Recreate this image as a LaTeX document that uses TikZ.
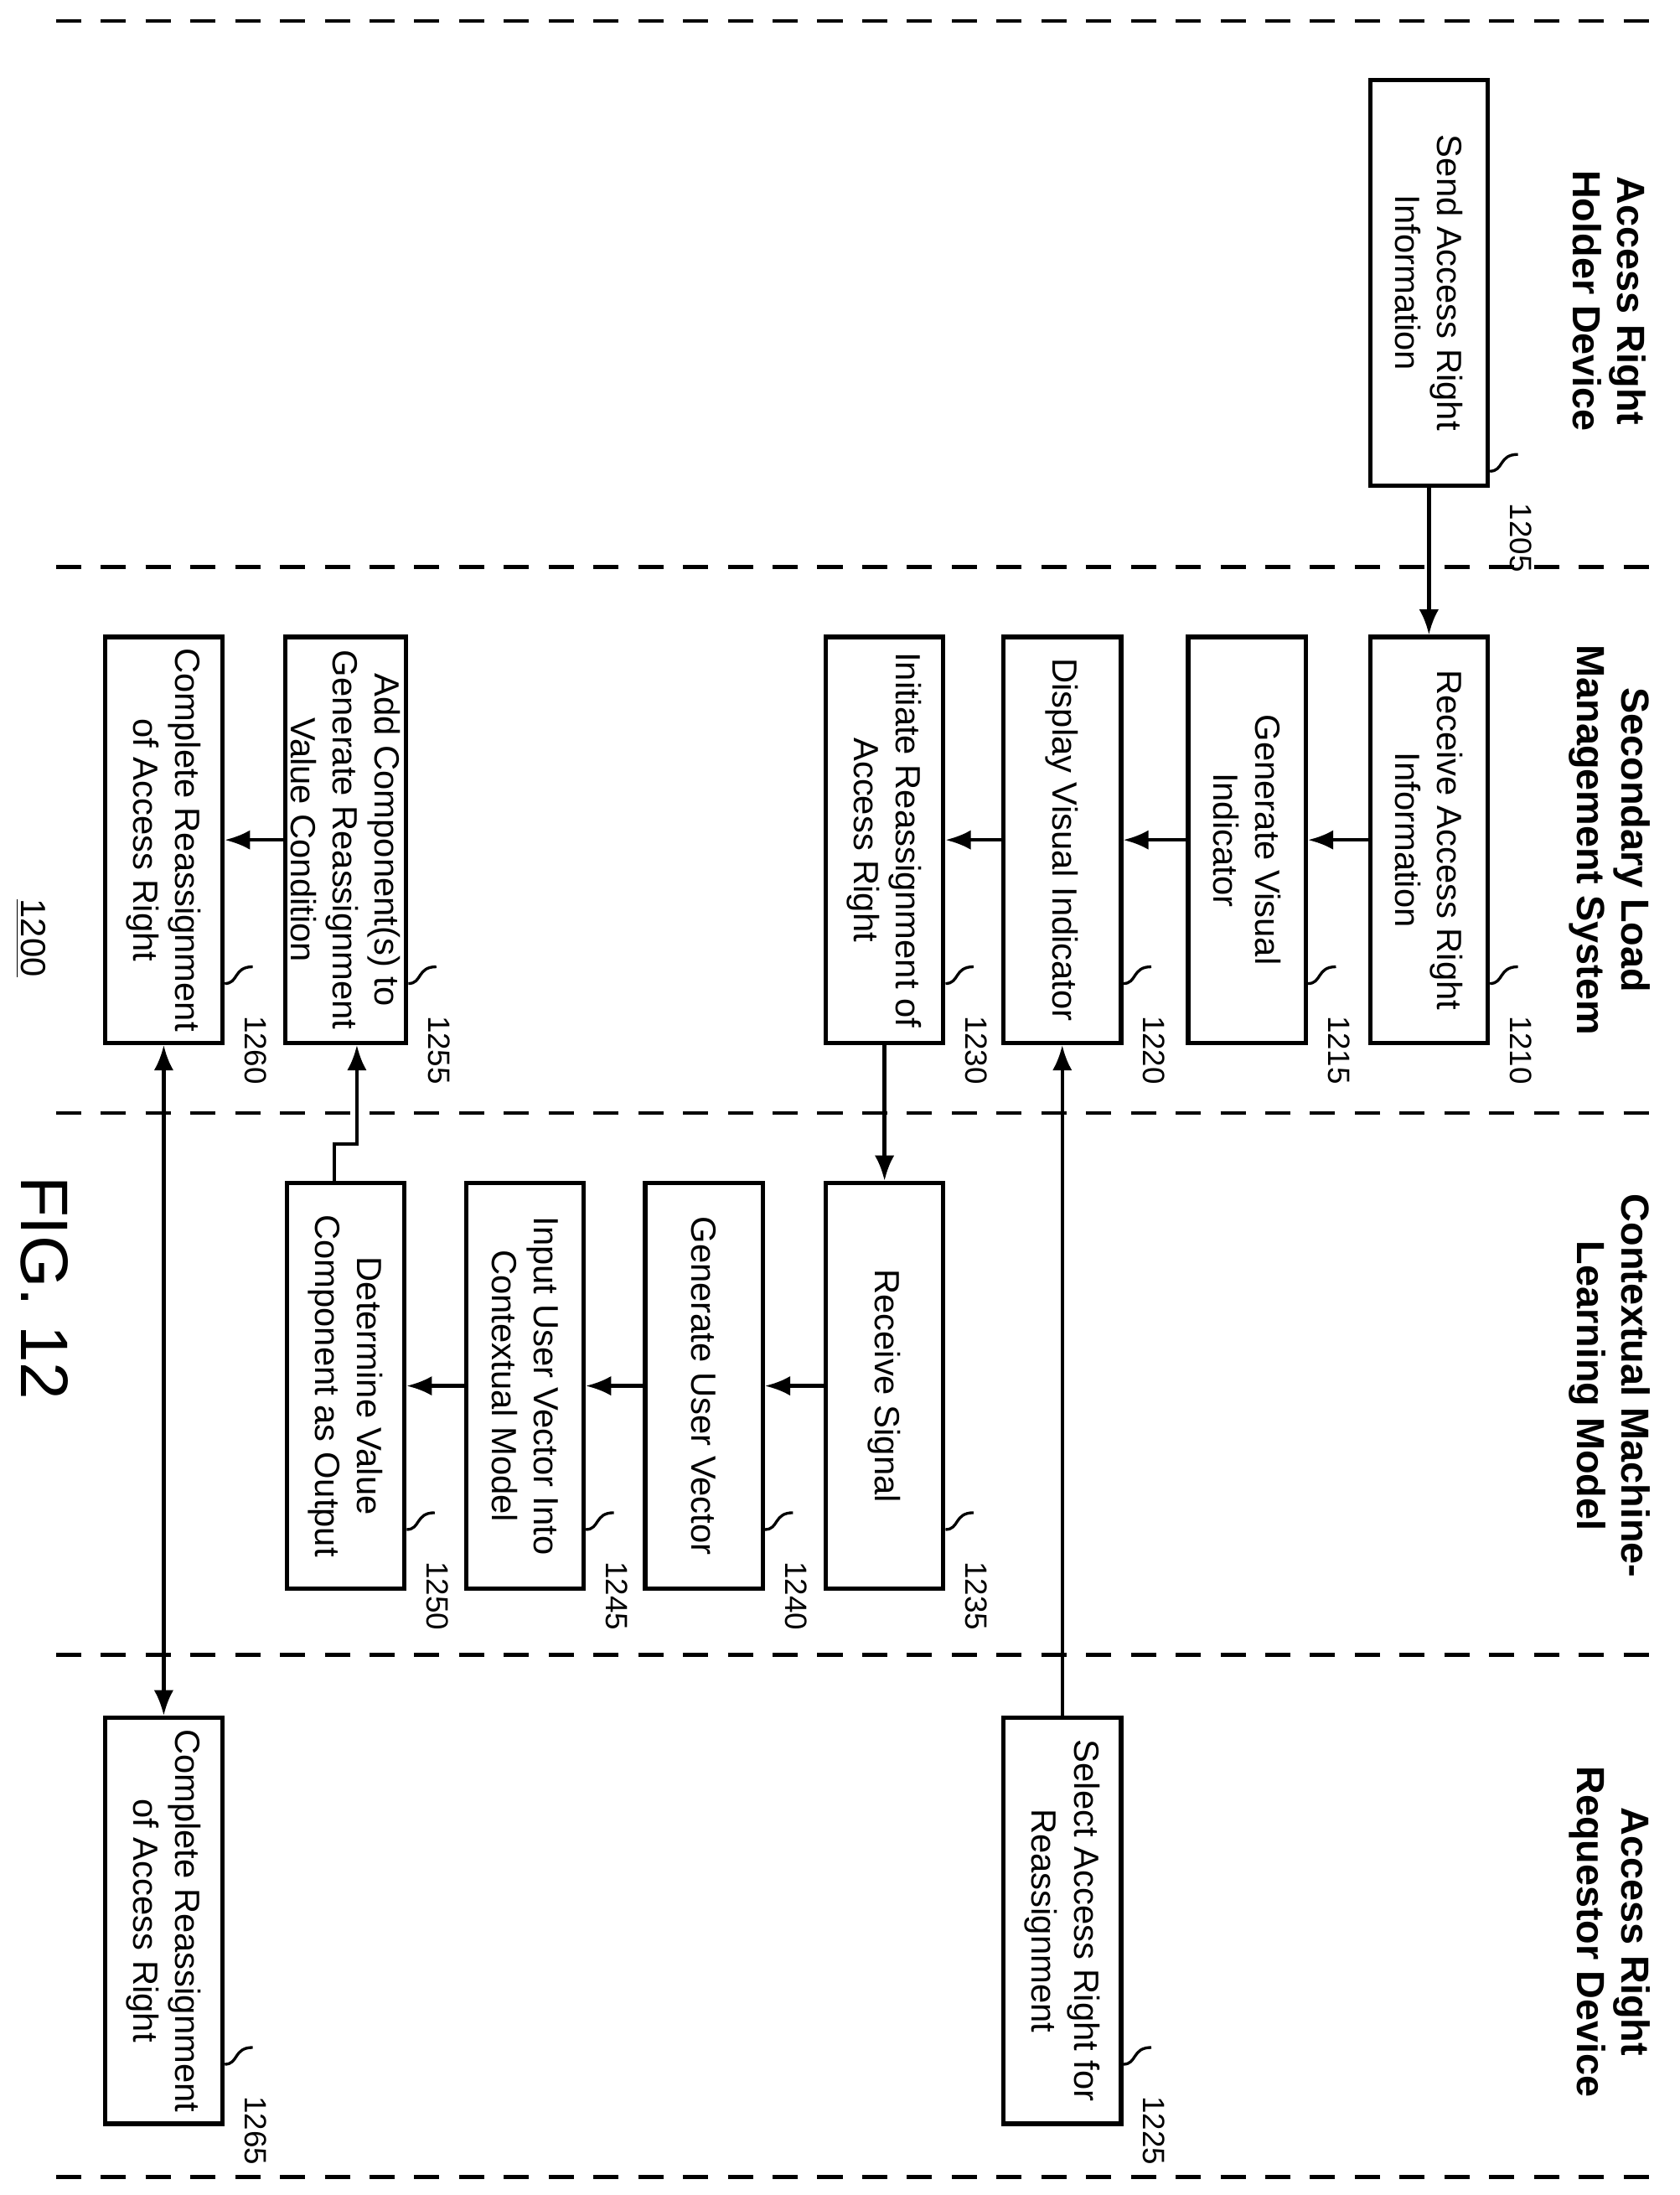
\documentclass[tikz,border=0pt]{standalone}
\usepackage{fontspec}
\setmainfont{Liberation Sans}
\usetikzlibrary{calc,arrows.meta}
\begin{document}
\begin{tikzpicture}[x=0.5pt,y=0.5pt,
 box/.style={draw,line width=1.6pt,rotate=-90,align=center,minimum width=145pt,minimum height=42pt,inner sep=2pt,font=\fontsize{12.5}{15}\selectfont},
 hdr/.style={rotate=-90,align=center,font=\fontsize{14}{16}\selectfont\bfseries},
 lanedash/.style={line width=1.4pt,dash pattern=on 9pt off 7pt},
 arr/.style={line width=1.3pt,-{Latex[length=9pt,width=7pt]}},
 num/.style={rotate=-90,anchor=west,font=\fontsize{11}{13}\selectfont}]
\useasboundingbox (0,0) rectangle (1200,-1568);
\fill[white] (0,0) rectangle (1200,-1568);
\foreach \y in {15,405,795,1182,1555} \draw[lanedash] (40,-\y) -- (1190,-\y);
\node[hdr] (h1) at (1150,-215) {Access Right\\Holder Device};
\node[hdr] (h2) at (1150,-600) {Secondary Load\\Management System};
\node[hdr] (h3) at (1150,-990) {Contextual Machine-\\Learning Model};
\node[hdr] (h4) at (1150,-1380) {Access Right\\Requestor Device};
\node[box] (n1205) at (1021,-202) {Send Access Right\\Information};
\node[box] (n1210) at (1021,-600) {Receive Access Right\\Information};
\node[box] (n1215) at (891,-600) {Generate Visual\\Indicator};
\node[box] (n1220) at (759,-600) {Display Visual Indicator};
\node[box] (n1230) at (632,-600) {Initiate Reassignment of\\Access Right};
\node[box] (n1255) at (247,-600) {Add Component(s) to\\Generate Reassignment\\Value Condition};
\node[box] (n1260) at (117,-600) {Complete Reassignment\\of Access Right};
\node[box] (n1235) at (632,-990) {Receive Signal};
\node[box] (n1240) at (503,-990) {Generate User Vector};
\node[box] (n1245) at (375,-990) {Input User Vector Into\\Contextual Model};
\node[box] (n1250) at (247,-990) {Determine Value\\Component as Output};
\node[box] (n1225) at (759,-1372) {Select Access Right for\\Reassignment};
\node[box] (n1265) at (117,-1372) {Complete Reassignment\\of Access Right};
\foreach \n/\o in {1205/-2,1210/14,1215/14,1220/14,1230/14,1255/14,1260/14,1235/14,1240/14,1245/14,1250/14,1225/14,1265/14}{
  \coordinate (c) at (n\n.north east);
  \draw[line width=1pt] ($(c)+(0,\o pt+8pt)$) .. controls ($(c)+(5pt,\o pt+8pt)$) and ($(c)+(3pt,\o pt+14pt)$) .. ($(c)+(10pt,\o pt+14pt)$);
  \node[num] (l\n) at ($(c)+(11pt,\o pt)$) {\n};
}
\draw[arr] (n1205.east) -- (n1210.west);
\draw[arr] (n1210.south) -- (n1215.north);
\draw[arr] (n1215.south) -- (n1220.north);
\draw[arr] (n1220.south) -- (n1230.north);
\draw[arr] (n1230.east) -- (n1235.west);
\draw[arr] (n1235.south) -- (n1240.north);
\draw[arr] (n1240.south) -- (n1245.north);
\draw[arr] (n1245.south) -- (n1250.north);
\draw[arr] ([xshift=-4pt]n1250.west) -- ++(0,26) -| ([xshift=4pt]n1255.east);
\draw[arr] (n1255.south) -- (n1260.north);
\draw[arr] (n1225.west) -- (n1220.east);
\draw[line width=1.3pt,{Latex[length=9pt,width=7pt]}-{Latex[length=9pt,width=7pt]}] (n1260.east) -- (n1265.west);
\node[rotate=-90,font=\fontsize{12.5}{15}\selectfont] (t1200) at (22,-670) {\underline{1200}};
\node[rotate=-90,font=\fontsize{24}{28}\selectfont] (fig) at (32,-920) {FIG. 12};
\end{tikzpicture}
\end{document}
